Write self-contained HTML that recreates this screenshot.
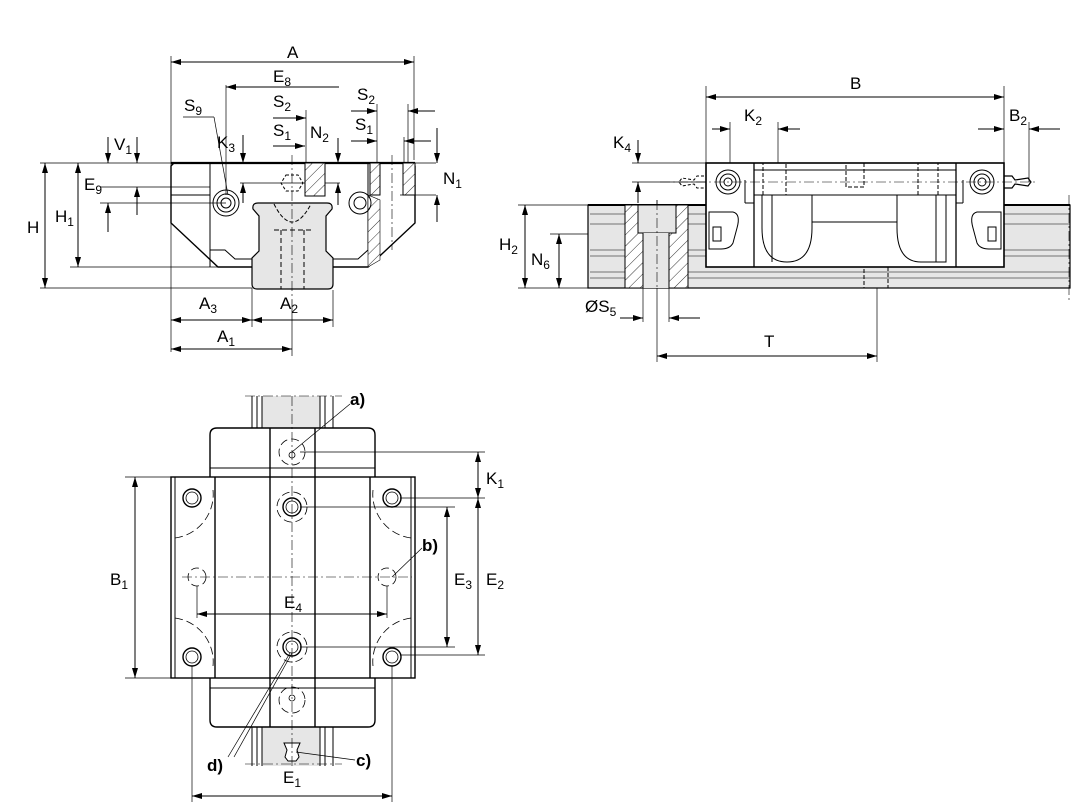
<!DOCTYPE html>
<html><head><meta charset="utf-8"><style>
html,body{margin:0;padding:0;background:#fff}
svg{display:block}
text{font-family:"Liberation Sans","DejaVu Sans",sans-serif;fill:#000}
.t{font-size:17px}
.b{font-size:17px;font-weight:bold}
.s{font-size:12px}
</style></head><body>
<svg width="1074" height="806" viewBox="0 0 1074 806" xmlns="http://www.w3.org/2000/svg">
<defs>
<marker id="a" viewBox="0 0 10 6" refX="10" refY="3" markerWidth="10" markerHeight="6" orient="auto-start-reverse" markerUnits="userSpaceOnUse"><path d="M0,0 L10,3 L0,6z" fill="#000"/></marker>
<pattern id="h" width="8" height="8" patternUnits="userSpaceOnUse" patternTransform="rotate(45)"><rect width="8" height="8" fill="#fff"/><line x1="0" y1="0" x2="0" y2="8" stroke="#000" stroke-width="0.8"/></pattern>
</defs>
<g fill="none" stroke="#000" stroke-width="1">

<!-- ===== FRONT VIEW ===== -->
<g stroke-width="0.7">
<line x1="171" y1="56" x2="171" y2="352"/>
<line x1="414" y1="56" x2="414" y2="160"/>
<line x1="226" y1="85" x2="226" y2="195"/>
<line x1="40" y1="163" x2="171" y2="163"/>
<line x1="70" y1="267" x2="218" y2="267"/>
<line x1="40" y1="288" x2="252" y2="288"/>
<line x1="100" y1="187" x2="171" y2="187"/>
<line x1="100" y1="203" x2="226" y2="203"/>
<line x1="252" y1="288" x2="252" y2="327"/>
<line x1="333" y1="290" x2="333" y2="327"/>
<line x1="292" y1="300" x2="292" y2="356"/>
<line x1="306" y1="110" x2="306" y2="163"/>
<line x1="436" y1="163" x2="415" y2="163"/>
<line x1="436" y1="195" x2="400" y2="195"/>
<line x1="408" y1="104" x2="408" y2="163"/>
<line x1="377" y1="104" x2="377" y2="163"/>
<line x1="404" y1="137" x2="404" y2="163"/>
<line x1="214" y1="117" x2="228" y2="195"/>
<line x1="183" y1="117" x2="214" y2="117"/>
<line x1="240" y1="183" x2="340" y2="183"/>
</g>
<line x1="171" y1="62" x2="414" y2="62" marker-start="url(#a)" marker-end="url(#a)"/>
<line x1="226" y1="87" x2="339" y2="87" marker-start="url(#a)"/>
<line x1="273" y1="118" x2="306" y2="118" marker-end="url(#a)"/>
<line x1="273" y1="146" x2="305" y2="146" marker-end="url(#a)"/>
<line x1="351" y1="111" x2="377" y2="111" marker-end="url(#a)"/>
<line x1="408" y1="111" x2="435" y2="111" marker-start="url(#a)"/>
<line x1="351" y1="141" x2="377" y2="141" marker-end="url(#a)"/>
<line x1="404" y1="141" x2="431" y2="141" marker-start="url(#a)"/>
<line x1="437" y1="128" x2="437" y2="163" marker-end="url(#a)"/>
<line x1="437" y1="195" x2="437" y2="222" marker-start="url(#a)"/>
<line x1="45" y1="163" x2="45" y2="288" marker-start="url(#a)" marker-end="url(#a)"/>
<line x1="78" y1="163" x2="78" y2="267" marker-start="url(#a)" marker-end="url(#a)"/>
<line x1="108" y1="137" x2="108" y2="163" marker-end="url(#a)"/>
<line x1="108" y1="203" x2="108" y2="232" marker-start="url(#a)"/>
<line x1="137" y1="137" x2="137" y2="163" marker-end="url(#a)"/>
<line x1="137" y1="187" x2="137" y2="215" marker-start="url(#a)"/>
<line x1="243" y1="135" x2="243" y2="163" marker-end="url(#a)"/>
<line x1="243" y1="183" x2="243" y2="203" marker-start="url(#a)"/>
<line x1="338" y1="138" x2="338" y2="163" marker-end="url(#a)"/>
<line x1="338" y1="183" x2="338" y2="205" marker-start="url(#a)"/>
<line x1="171" y1="320" x2="252" y2="320" marker-start="url(#a)" marker-end="url(#a)"/>
<line x1="252" y1="320" x2="333" y2="320" marker-start="url(#a)" marker-end="url(#a)"/>
<line x1="171" y1="349" x2="292" y2="349" marker-start="url(#a)" marker-end="url(#a)"/>
<!-- block -->
<path d="M252,267 L218,267 L171,223 L171,166 L174,163 L412,163 L415,166 L415,223 L368,267 L333,267" stroke-width="1.4"/>
<line x1="171" y1="163" x2="415" y2="163" stroke-width="2.2"/>
<line x1="210" y1="163" x2="210" y2="267"/>
<line x1="171" y1="187" x2="210" y2="187" stroke-width="0.7"/>
<line x1="171" y1="195" x2="210" y2="195"/>
<path d="M210,250 L225,250 L235,259 L252,259"/>
<path d="M333,259 L358,259 L368,250 L368,163"/>
<rect x="305" y="163" width="20" height="33" fill="url(#h)"/>
<rect x="370" y="163" width="10" height="32" fill="url(#h)"/>
<rect x="403" y="163" width="12" height="32" fill="url(#h)"/>
<path d="M368,195 L368,267 L380,260 L380,200Z" fill="url(#h)" stroke-width="0.6"/>
<!-- rail -->
<path d="M258,203 L327,203 Q333,203 332,209 L326,216 L326,251 L333,258 L333,284 Q333,289 328,289 L257,289 Q252,289 252,284 L252,258 L259,251 L259,216 L253,209 Q252,203 258,203Z" fill="#e6e6e6" stroke-width="1.2"/>
<path d="M274,204 Q292,240 311,204" stroke-dasharray="4,2"/>
<line x1="281" y1="230" x2="281" y2="289" stroke-dasharray="5,3"/>
<line x1="304" y1="230" x2="304" y2="289" stroke-dasharray="5,3"/>
<line x1="274" y1="230" x2="311" y2="230" stroke-dasharray="5,3"/>
<line x1="292" y1="155" x2="292" y2="300" stroke-width="0.6" stroke-dasharray="10,3,2,3"/>
<line x1="392" y1="155" x2="392" y2="250" stroke-width="0.6" stroke-dasharray="10,3,2,3"/>
<circle cx="226" cy="203" r="13"/><circle cx="226" cy="203" r="9"/><circle cx="226" cy="203" r="5"/>
<circle cx="360" cy="203" r="11"/><circle cx="360" cy="203" r="6"/>
<path d="M286,175 L298,175 L303,183 L298,191 L286,191 L281,183Z" stroke-dasharray="3,2"/>

<!-- ===== SIDE VIEW ===== -->
<g stroke-width="0.7">
<line x1="706" y1="86" x2="706" y2="163"/>
<line x1="1004" y1="86" x2="1004" y2="163"/>
<line x1="730" y1="122" x2="730" y2="195"/>
<line x1="778" y1="122" x2="778" y2="195"/>
<line x1="1029" y1="122" x2="1029" y2="182"/>
<line x1="632" y1="163" x2="706" y2="163"/>
<line x1="632" y1="182" x2="740" y2="182"/>
<line x1="518" y1="205" x2="588" y2="205"/>
<line x1="518" y1="288" x2="588" y2="288"/>
<line x1="550" y1="234" x2="638" y2="234"/>
<line x1="643" y1="234" x2="643" y2="322"/>
<line x1="669" y1="234" x2="669" y2="322"/>
<line x1="657" y1="200" x2="657" y2="362"/>
<line x1="877" y1="262" x2="877" y2="362"/>
</g>
<line x1="706" y1="97" x2="1004" y2="97" marker-start="url(#a)" marker-end="url(#a)"/>
<line x1="712" y1="129" x2="730" y2="129" marker-end="url(#a)"/>
<line x1="778" y1="129" x2="800" y2="129" marker-start="url(#a)"/>
<line x1="978" y1="129" x2="1004" y2="129" marker-end="url(#a)"/>
<line x1="1029" y1="129" x2="1060" y2="129" marker-start="url(#a)"/>
<line x1="638" y1="140" x2="638" y2="163" marker-end="url(#a)"/>
<line x1="638" y1="182" x2="638" y2="203" marker-start="url(#a)"/>
<line x1="525" y1="205" x2="525" y2="288" marker-start="url(#a)" marker-end="url(#a)"/>
<line x1="559" y1="234" x2="559" y2="288" marker-start="url(#a)" marker-end="url(#a)"/>
<line x1="620" y1="318" x2="643" y2="318" marker-end="url(#a)"/>
<line x1="669" y1="318" x2="700" y2="318" marker-start="url(#a)"/>
<line x1="657" y1="356" x2="877" y2="356" marker-start="url(#a)" marker-end="url(#a)"/>
<rect x="588" y="205" width="482" height="83" fill="#e6e6e6" stroke-width="1.2"/>
<line x1="588" y1="205" x2="1070" y2="205" stroke-width="2"/>
<g stroke-width="0.6">
<line x1="590" y1="214" x2="1070" y2="214"/><line x1="590" y1="224" x2="706" y2="224"/>
<line x1="590" y1="250" x2="706" y2="250"/><line x1="590" y1="256" x2="706" y2="256"/>
<line x1="1004" y1="224" x2="1070" y2="224"/>
<line x1="1004" y1="250" x2="1070" y2="250"/><line x1="1004" y1="256" x2="1070" y2="256"/>
<line x1="590" y1="272" x2="1070" y2="272"/><line x1="590" y1="278" x2="1070" y2="278"/>
</g>
<line x1="1069" y1="195" x2="1069" y2="300" stroke-width="0.6" stroke-dasharray="10,3,2,3"/>
<rect x="625" y="205" width="63" height="83" fill="url(#h)"/>
<rect x="638" y="205" width="38" height="28" fill="#e6e6e6"/>
<rect x="643" y="233" width="26" height="55" fill="#e6e6e6" stroke="none"/>
<line x1="643" y1="233" x2="643" y2="288"/><line x1="669" y1="233" x2="669" y2="288"/>
<rect x="706" y="163" width="298" height="104" fill="#fff" stroke-width="1.6"/>
<line x1="754" y1="163" x2="754" y2="267" stroke-width="1.3"/>
<line x1="956" y1="163" x2="956" y2="267" stroke-width="1.3"/>
<line x1="754" y1="170" x2="956" y2="170"/>
<line x1="754" y1="195" x2="956" y2="195"/>
<line x1="745" y1="180" x2="745" y2="203"/><line x1="745" y1="203" x2="754" y2="203"/>
<line x1="963" y1="180" x2="963" y2="203"/><line x1="956" y1="203" x2="963" y2="203"/>
<path d="M762,195 L812,195 L812,228 Q812,262 787,262 Q762,262 762,228Z"/>
<line x1="772" y1="195" x2="772" y2="262"/>
<path d="M897,195 L946,195 L946,262 L921,262 Q897,262 897,228Z"/>
<line x1="936" y1="195" x2="936" y2="262"/>
<line x1="812" y1="222" x2="897" y2="222"/>
<g stroke-dasharray="4,2"><rect x="763" y="163" width="23" height="32"/><rect x="918" y="163" width="20" height="32"/><rect x="846" y="163" width="18" height="24"/><rect x="864" y="267" width="24" height="21"/></g>
<path d="M709,212 L733,212 Q741,214 737,228 L733,243 Q730,249 721,249 L709,249Z"/>
<rect x="713" y="227" width="8" height="14"/>
<path d="M1001,212 L977,212 Q969,214 973,228 L977,243 Q980,249 989,249 L1001,249Z"/>
<rect x="988" y="227" width="8" height="14"/>
<circle cx="728" cy="182" r="12"/><circle cx="728" cy="182" r="8"/><circle cx="728" cy="182" r="4"/>
<circle cx="982" cy="182" r="12"/><circle cx="982" cy="182" r="8"/><circle cx="982" cy="182" r="4"/>
<path d="M1004,176 L1012,176 L1015,180 L1028,178 L1031,182 L1028,186 L1015,184 L1012,188 L1004,188" stroke-width="1.2"/>
<path d="M704,176 L697,176 L694,180 L682,178 L679,182 L682,186 L694,184 L697,188 L704,188" stroke-dasharray="3,2"/>
<line x1="660" y1="182" x2="1035" y2="182" stroke-width="0.5" stroke-dasharray="10,3,2,3"/>
<line x1="657" y1="200" x2="657" y2="290" stroke-width="0.6" stroke-dasharray="10,3,2,3"/>

<!-- ===== TOP VIEW ===== -->
<rect x="252" y="396" width="81" height="370" fill="#fff" stroke="none"/>
<rect x="262" y="396" width="58" height="370" fill="#e6e6e6" stroke="none"/>
<g stroke-width="1"><line x1="252" y1="396" x2="252" y2="766"/><line x1="257" y1="396" x2="257" y2="766"/><line x1="262" y1="396" x2="262" y2="766"/>
<line x1="320" y1="396" x2="320" y2="766"/><line x1="325" y1="396" x2="325" y2="766"/><line x1="333" y1="396" x2="333" y2="766"/></g>
<line x1="245" y1="396" x2="342" y2="396" stroke-width="0.6" stroke-dasharray="10,3,2,3"/>
<line x1="245" y1="764" x2="342" y2="764" stroke-width="0.6" stroke-dasharray="10,3,2,3"/>
<path d="M210,477 L210,435 Q210,428 217,428 L368,428 Q375,428 375,435 L375,477" fill="#fff" stroke-width="1.4"/>
<line x1="210" y1="468" x2="375" y2="468"/>
<path d="M210,678 L210,720 Q210,727 217,727 L368,727 Q375,727 375,720 L375,678" fill="#fff" stroke-width="1.4"/>
<line x1="210" y1="688" x2="375" y2="688"/>
<rect x="171" y="477" width="244" height="201" fill="#fff" stroke-width="1.4"/>
<line x1="175" y1="477" x2="175" y2="678"/><line x1="411" y1="477" x2="411" y2="678"/>
<line x1="215" y1="477" x2="215" y2="678" stroke-width="1.4"/><line x1="370" y1="477" x2="370" y2="678" stroke-width="1.4"/>
<line x1="270" y1="428" x2="270" y2="727" stroke-width="1.4"/><line x1="315" y1="428" x2="315" y2="727" stroke-width="1.4"/>
<g stroke-dasharray="8,4" stroke-width="0.8">
<path d="M175,538 A44,44 0 0 0 213,490"/>
<path d="M411,538 A44,44 0 0 1 373,490"/>
<path d="M175,618 A44,44 0 0 1 213,666"/>
<path d="M411,618 A44,44 0 0 0 373,666"/>
<circle cx="292" cy="452" r="13"/><circle cx="292" cy="700" r="13"/>
<circle cx="292" cy="507" r="15"/><circle cx="292" cy="647" r="15"/>
<circle cx="197" cy="577" r="9"/><circle cx="387" cy="577" r="9"/>
</g>
<g stroke-width="1.4">
<circle cx="192" cy="498" r="9"/><circle cx="392" cy="498" r="9"/><circle cx="192" cy="657" r="9"/><circle cx="392" cy="657" r="9"/>
<circle cx="292" cy="507" r="9"/><circle cx="292" cy="647" r="9"/>
</g>
<g stroke-width="0.8"><circle cx="192" cy="498" r="6"/><circle cx="392" cy="498" r="6"/><circle cx="192" cy="657" r="6"/><circle cx="392" cy="657" r="6"/>
<circle cx="292" cy="507" r="6"/><circle cx="292" cy="647" r="6"/><circle cx="292" cy="455" r="3"/><circle cx="292" cy="698" r="3"/></g>
<path d="M284,743 L300,743 L297,750 L299,757 L296,761 L288,761 L285,757 L287,750Z" fill="#fff"/>
<g stroke-width="0.6" stroke-dasharray="10,3,2,3">
<line x1="292" y1="396" x2="292" y2="766"/>
<line x1="182" y1="577" x2="412" y2="577"/>
</g>
<g stroke-width="0.7">
<line x1="300" y1="452" x2="485" y2="452"/>
<line x1="400" y1="498" x2="485" y2="498"/>
<line x1="300" y1="507" x2="455" y2="507"/>
<line x1="300" y1="647" x2="455" y2="647"/>
<line x1="400" y1="655" x2="485" y2="655"/>
<line x1="125" y1="477" x2="171" y2="477"/>
<line x1="125" y1="678" x2="171" y2="678"/>
<line x1="192" y1="666" x2="192" y2="802"/><line x1="392" y1="666" x2="392" y2="802"/>
<line x1="197" y1="586" x2="197" y2="618"/><line x1="387" y1="586" x2="387" y2="618"/>
<line x1="292" y1="452" x2="350" y2="404"/>
<line x1="392" y1="577" x2="422" y2="548"/>
<line x1="296" y1="752" x2="355" y2="760"/>
<line x1="228" y1="757" x2="290" y2="653"/>
<line x1="234" y1="757" x2="292" y2="653"/>
</g>
<line x1="135" y1="477" x2="135" y2="678" marker-start="url(#a)" marker-end="url(#a)"/>
<line x1="478" y1="452" x2="478" y2="498" marker-start="url(#a)" marker-end="url(#a)"/>
<line x1="478" y1="498" x2="478" y2="655" marker-start="url(#a)" marker-end="url(#a)"/>
<line x1="447" y1="507" x2="447" y2="647" marker-start="url(#a)" marker-end="url(#a)"/>
<line x1="197" y1="614" x2="387" y2="614" marker-start="url(#a)" marker-end="url(#a)"/>
<line x1="192" y1="796" x2="392" y2="796" marker-start="url(#a)" marker-end="url(#a)"/>
</g>

<g>
<text x="287" y="58" class="t">A</text>
<text x="273" y="82" class="t">E<tspan class="s" dy="4">8</tspan></text>
<text x="184" y="111" class="t">S<tspan class="s" dy="4">9</tspan></text>
<text x="273" y="107" class="t">S<tspan class="s" dy="4">2</tspan></text>
<text x="273" y="136" class="t">S<tspan class="s" dy="4">1</tspan></text>
<text x="310" y="138" class="t">N<tspan class="s" dy="4">2</tspan></text>
<text x="357" y="100" class="t">S<tspan class="s" dy="4">2</tspan></text>
<text x="355" y="130" class="t">S<tspan class="s" dy="4">1</tspan></text>
<text x="217" y="148" class="t">K<tspan class="s" dy="4">3</tspan></text>
<text x="114" y="150" class="t">V<tspan class="s" dy="4">1</tspan></text>
<text x="443" y="184" class="t">N<tspan class="s" dy="4">1</tspan></text>
<text x="84" y="190" class="t">E<tspan class="s" dy="4">9</tspan></text>
<text x="55" y="222" class="t">H<tspan class="s" dy="4">1</tspan></text>
<text x="27" y="233" class="t">H</text>
<text x="199" y="309" class="t">A<tspan class="s" dy="4">3</tspan></text>
<text x="280" y="309" class="t">A<tspan class="s" dy="4">2</tspan></text>
<text x="217" y="342" class="t">A<tspan class="s" dy="4">1</tspan></text>
<text x="850" y="89" class="t">B</text>
<text x="744" y="121" class="t">K<tspan class="s" dy="4">2</tspan></text>
<text x="1009" y="121" class="t">B<tspan class="s" dy="4">2</tspan></text>
<text x="613" y="148" class="t">K<tspan class="s" dy="4">4</tspan></text>
<text x="499" y="250" class="t">H<tspan class="s" dy="4">2</tspan></text>
<text x="531" y="265" class="t">N<tspan class="s" dy="4">6</tspan></text>
<text x="585" y="312" class="t">ØS<tspan class="s" dy="4">5</tspan></text>
<text x="764" y="347" class="t">T</text>
<text x="486" y="484" class="t">K<tspan class="s" dy="4">1</tspan></text>
<text x="110" y="585" class="t">B<tspan class="s" dy="4">1</tspan></text>
<text x="454" y="585" class="t">E<tspan class="s" dy="4">3</tspan></text>
<text x="486" y="585" class="t">E<tspan class="s" dy="4">2</tspan></text>
<text x="284" y="608" class="t">E<tspan class="s" dy="4">4</tspan></text>
<text x="283" y="783" class="t">E<tspan class="s" dy="4">1</tspan></text>
<text x="350" y="405" class="b">a)</text>
<text x="422" y="551" class="b">b)</text>
<text x="356" y="766" class="b">c)</text>
<text x="207" y="771" class="b">d)</text>
</g>
</svg>
</body></html>
